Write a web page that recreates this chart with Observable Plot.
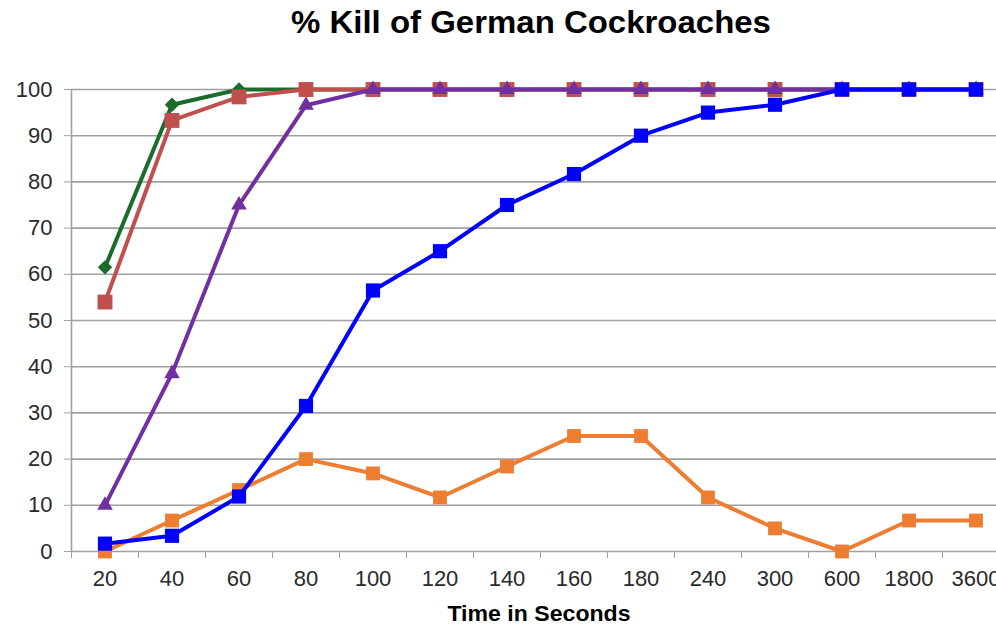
<!DOCTYPE html>
<html><head><meta charset="utf-8">
<script src="https://cdn.jsdelivr.net/npm/d3@7"></script>
<script src="https://cdn.jsdelivr.net/npm/@observablehq/plot@0.6"></script>
<style>
html,body{margin:0;padding:0;background:#fff;overflow:hidden;width:996px;height:625px}
#wrap{position:relative;width:996px;height:625px;font-family:"Liberation Sans",Arial,sans-serif;overflow:hidden}
#title{position:absolute;left:0;top:2.5px;width:1062px;text-align:center;font-weight:bold;font-size:32px;line-height:38px;color:#000;z-index:2;transform:scaleX(1.03);transform-origin:531px 50%}
#xlabel{position:absolute;left:0;top:600.5px;width:1078px;text-align:center;font-weight:bold;font-size:22px;line-height:26px;color:#000;z-index:2;transform:scaleX(1.05);transform-origin:539px 50%}
#chart{position:absolute;left:0;top:0}
#chart svg{max-width:none !important;overflow:hidden}
</style>
</head><body>
<div id="wrap">
  <div id="title">% Kill of German Cockroaches</div>
  <div id="chart"></div>
  <div id="xlabel">Time in Seconds</div>
</div>
<script>
const categories = ["20","40","60","80","100","120","140","160","180","240","300","600","1800","3600"];
const yTicks = [0,10,20,30,40,50,60,70,80,90,100];
const greenValues  = [61.5, 96.7, 100, 100, 100, 100, 100, 100, 100, 100, 100, 100, 100, 100];
const redValues    = [54, 93.3, 98.4, 100, 100, 100, 100, 100, 100, 100, 100, 100, 100, 100];
const purpleValues = [10, 38.5, 75, 96.6, 100, 100, 100, 100, 100, 100, 100, 100, 100, 100];
const blueValues   = [1.7, 3.4, 11.9, 31.5, 56.5, 65, 75, 81.7, 90, 95, 96.7, 100, 100, 100];
const orangeValues = [0, 6.7, 13.3, 20, 16.9, 11.7, 18.4, 25, 25, 11.7, 5, 0, 6.7, 6.7];

const diamond = {
  draw(ctx, size) {
    const h = Math.sqrt(size / Math.PI);
    ctx.moveTo(0, -h); ctx.lineTo(h, 0); ctx.lineTo(0, h); ctx.lineTo(-h, 0); ctx.closePath();
  }
};

const series = [
  {name: "orange", values: orangeValues, color: "#ed7d31", symbol: "square", r: 7.8},
  {name: "green",  values: greenValues,  color: "#1a6b2c", symbol: diamond,  r: 7.2},
  {name: "red",    values: redValues,    color: "#c0504d", symbol: "square", r: 8.4},
  {name: "purple", values: purpleValues, color: "#7030a0", symbol: "triangle", r: 5.8},
  {name: "blue",   values: blueValues,   color: "#0000ff", symbol: "square", r: 8}
];

const gray = "#a0a0a0";
const idx = categories.map((c, i) => i);
const seps = d3.range(-0.5, categories.length, 1);

const marks = [
  Plot.gridY(yTicks, {stroke: gray, strokeOpacity: 1, strokeWidth: 1.6}),
  Plot.ruleX([-0.5], {stroke: gray, strokeWidth: 1.6}),
  Plot.axisY({ticks: yTicks, tickSize: 7, tickPadding: 12, fontSize: 22, stroke: gray, fill: "#2a2a2a", label: null}),
  Plot.axisX({ticks: seps, tickSize: 7, tickFormat: () => "", stroke: gray, label: null}),
  Plot.axisX({ticks: idx, tickSize: 0, tickPadding: 19, tickFormat: i => categories[i], fontSize: 22, fill: "#2a2a2a", label: null})
];
for (const s of series) {
  const data = s.values.map((v, i) => ({i, v}));
  marks.push(Plot.line(data, {x: "i", y: "v", stroke: s.color, strokeWidth: 4}));
  marks.push(Plot.dot(data, {x: "i", y: "v", fill: s.color, symbol: s.symbol, r: s.r, stroke: "none"}));
}

const chart = Plot.plot({
  width: 996,
  height: 625,
  marginLeft: 71,
  marginRight: 0,
  marginTop: 89,
  marginBottom: 74,
  style: {fontFamily: "'Liberation Sans', Arial, sans-serif", background: "#fff", maxWidth: "none"},
  x: {type: "linear", domain: [-0.5, categories.length - 0.5], range: [71, 71 + 67 * categories.length], axis: null},
  y: {domain: [0, 100], range: [551, 89], axis: null},
  marks
});
document.getElementById("chart").appendChild(chart);
</script>
</body></html>
